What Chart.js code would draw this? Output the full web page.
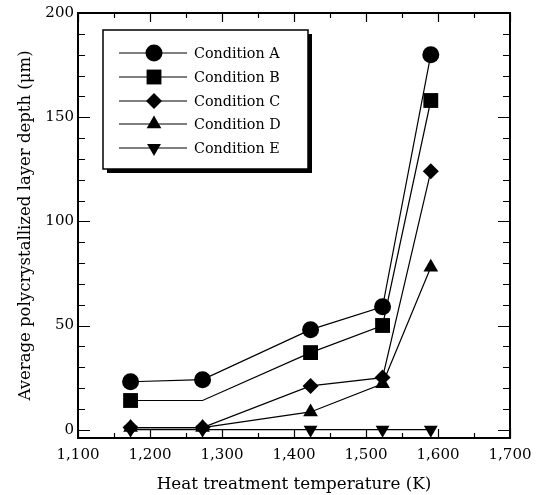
<!DOCTYPE html>
<html>
<head>
<meta charset="utf-8">
<script src="https://cdn.jsdelivr.net/npm/chart.js@4.4.1/dist/chart.umd.min.js"></script>
<style>
  body { margin: 0; background: #fff; }
  #wrap { width: 543px; height: 495px; position: relative; }
</style>
</head>
<body>
<div id="wrap"><canvas id="myChart"></canvas></div>
<script>
// data
const temps = [1173, 1273, 1423, 1523, 1590];
const condA = [23, 24, 48, 59, 180];
const condB = [14, 14, 37, 50, 158];
const condC = [1, 1, 21, 25, 124];
const condD = [1, 1, 8.5, 22, 78];
const condE = [0, 0, 0, 0, 0];
const seriesNames = ['Condition A', 'Condition B', 'Condition C', 'Condition D', 'Condition E'];
const yTickValues = [0, 50, 100, 150, 200];

const FONT = 'DejaVu Serif';

function pts(vals) {
    var out = [];
    for (var i = 0; i < temps.length; i++) out.push({x: temps[i], y: vals[i]});
    return out;
}

const styles = [
    {pointStyle: 'circle', radius: 8.5, rotation: 0},
    {pointStyle: 'rect', radius: 10.5, rotation: 0},
    {pointStyle: 'rectRot', radius: 8, rotation: 0},
    {pointStyle: 'triangle', radius: 8.5, rotation: 0},
    {pointStyle: 'triangle', radius: 8, rotation: 180}
];
const allVals = [condA, condB, condC, condD, condE];

var datasets = [];
for (var i = 0; i < allVals.length; i++) {
    var r = styles[i].radius;
    var radii = temps.map(function () { return r; });
    if (i === 1) radii[1] = 0; // no square drawn at 1273 K in the figure
    datasets.push({
        label: seriesNames[i],
        data: pts(allVals[i]),
        showLine: true,
        borderColor: '#000',
        backgroundColor: '#000',
        borderWidth: 1.2,
        pointStyle: styles[i].pointStyle,
        pointRadius: radii,
        pointRotation: styles[i].rotation,
        pointBorderWidth: 0,
        pointBackgroundColor: '#000',
        tension: 0
    });
}

// frame, inward ticks and the boxed legend
const framePlugin = {
    id: 'frame',
    afterDraw(chart) {
        const ctx = chart.ctx;
        const a = chart.chartArea;
        const xs = chart.scales.x, ys = chart.scales.y;
        ctx.save();
        ctx.strokeStyle = '#000';
        ctx.lineWidth = 1.2;
        // x ticks every 50, major every 100
        for (var v = 1100; v <= 1700; v += 50) {
            var px = Math.round(xs.getPixelForValue(v)) + 0.5;
            var len = (v % 100 === 0) ? 9 : 5;
            ctx.beginPath();
            ctx.moveTo(px, a.bottom); ctx.lineTo(px, a.bottom - len);
            ctx.moveTo(px, a.top); ctx.lineTo(px, a.top + len);
            ctx.stroke();
        }
        // y ticks every 10, major every 50
        for (var w = 0; w <= 200; w += 10) {
            var py = Math.round(ys.getPixelForValue(w)) + 0.5;
            var l2 = (w % 50 === 0) ? 12 : 7;
            ctx.beginPath();
            ctx.moveTo(a.left, py); ctx.lineTo(a.left + l2, py);
            ctx.moveTo(a.right, py); ctx.lineTo(a.right - l2, py);
            ctx.stroke();
        }
        ctx.lineWidth = 2;
        ctx.strokeRect(a.left, a.top, a.right - a.left, a.bottom - a.top);

        // legend box with drop shadow
        var bx = 103, by = 30, bw = 205, bh = 139;
        ctx.fillStyle = '#000';
        ctx.fillRect(bx + 4, by + 4, bw, bh);
        ctx.fillStyle = '#fff';
        ctx.fillRect(bx, by, bw, bh);
        ctx.lineWidth = 1.5;
        ctx.strokeRect(bx, by, bw, bh);

        var rowY = [53, 77, 101, 124, 148];
        ctx.font = '14.3px "' + FONT + '"';
        ctx.textBaseline = 'middle';
        ctx.textAlign = 'left';
        chart.data.datasets.forEach(function (ds, k) {
            var y = rowY[k];
            ctx.strokeStyle = '#000';
            ctx.lineWidth = 1.2;
            ctx.beginPath();
            ctx.moveTo(119, y); ctx.lineTo(187, y);
            ctx.stroke();
            ctx.fillStyle = '#000';
            Chart.helpers.drawPoint(ctx, {
                pointStyle: styles[k].pointStyle,
                rotation: styles[k].rotation,
                radius: styles[k].radius,
                borderWidth: 0
            }, 154, y);
            ctx.fillStyle = '#000';
            ctx.fillText(ds.label, 194, y + 1);
        });
        ctx.restore();
    }
};

function withCommas(v) {
    return String(v).replace(/\B(?=(\d{3})+(?!\d))/g, ',');
}

const config = {
    type: 'scatter',
    data: {datasets: datasets},
    options: {
        responsive: true,
        maintainAspectRatio: false,
        animation: false,
        layout: {padding: {top: 11, right: 33, left: 0, bottom: 0}},
        plugins: {legend: {display: false}, tooltip: {enabled: false}},
        scales: {
            x: {
                type: 'linear',
                min: 1100,
                max: 1700,
                grid: {display: false, drawTicks: false},
                border: {display: false},
                ticks: {
                    stepSize: 100,
                    color: '#000',
                    padding: 8,
                    maxRotation: 0,
                    font: {family: FONT, size: 15},
                    callback: function (v) { return withCommas(v); }
                },
                title: {
                    display: true,
                    text: 'Heat treatment temperature (K)',
                    color: '#000',
                    font: {family: FONT, size: 16.8},
                    padding: {top: 0, bottom: 0}
                },
                afterFit: function (s) { s.height = 57; }
            },
            y: {
                type: 'linear',
                min: -4,
                max: 200,
                grid: {display: false, drawTicks: false},
                border: {display: false},
                ticks: {
                    color: '#000',
                    padding: 4,
                    font: {family: FONT, size: 15}
                },
                afterBuildTicks: function (s) {
                    s.ticks = yTickValues.map(function (v) { return {value: v}; });
                },
                title: {
                    display: true,
                    text: 'Average polycrystallized layer depth (μm)',
                    color: '#000',
                    font: {family: FONT, size: 16.5},
                    padding: {top: 16, bottom: 0}
                },
                afterFit: function (s) { s.width = 78; }
            }
        }
    },
    plugins: [framePlugin]
};

const my_chart = new Chart(document.getElementById('myChart'), config);
</script>
</body>
</html>
